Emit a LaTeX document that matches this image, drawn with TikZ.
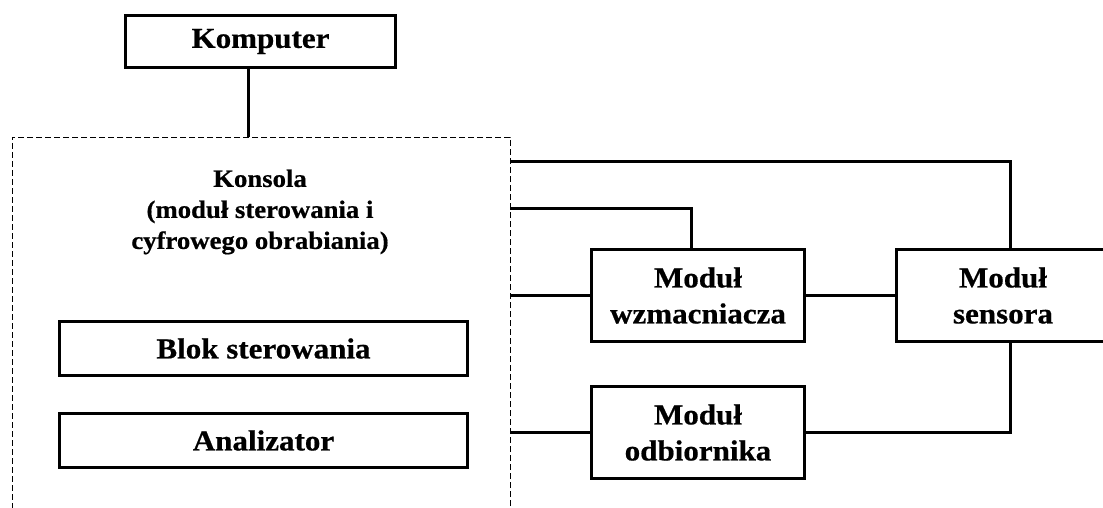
\documentclass[tikz,border=0pt]{standalone}
\usepackage{fontspec}
\setmainfont{Liberation Serif}[FakeStretch=1.07,FakeBold=0.6]
\begin{document}
\begin{tikzpicture}[x=1pt,y=-1pt,
  box/.style={draw, line width=3pt, rectangle, inner sep=0pt, outer sep=0pt,
    align=center, font=\bfseries\fontsize{29}{36}\selectfont},
  group/.style={draw, dashed, dash pattern=on 6pt off 3pt, line width=0.9pt,
    rectangle, inner sep=0pt, outer sep=0pt},
  wire/.style={line width=3pt}]
  \clip (0,0) rectangle (1103,508);
  \fill[white] (0,0) rectangle (1103,508);

  % computer and console
  \node[box, line width=3.5pt, minimum width=270pt, minimum height=52pt] (komp) at (260.5,41.5) {Komputer};
  \node[group, minimum width=498pt, minimum height=393pt] (konsola) at (261,333.5) {};
  \node[align=center, font=\bfseries\fontsize{25}{31}\selectfont] (konsolatxt) at (260,212)
    {Konsola\\ (moduł sterowania i\\ cyfrowego obrabiania)};
  \node[box, minimum width=408pt, minimum height=54pt] (blok) at (263.5,348.5) {Blok sterowania};
  \node[box, minimum width=408pt, minimum height=54pt] (anal) at (263.5,440.5) {Analizator};

  % external modules
  \node[box, minimum width=213pt, minimum height=92pt] (wzm) at (698,295.5) {Moduł\\ wzmacniacza};
  \node[box, minimum width=213pt, minimum height=92pt] (odb) at (698,432.5) {Moduł\\ odbiornika};
  \node[box, minimum width=213pt, minimum height=92pt] (sens) at (1003,295.5) {Moduł\\ sensora};

  % connections
  \draw[wire] ([xshift=-12.5pt]komp.south) -- ([xshift=-12.5pt]komp.south |- konsola.north);
  \draw[wire] (konsola.east |- 0,162) -| ([xshift=7pt]sens.north);
  \draw[wire] (konsola.east |- 0,208) -| ([xshift=-7pt]wzm.north);
  \draw[wire] (konsola.east |- wzm.west) -- (wzm.west);
  \draw[wire] (wzm.east) -- (sens.west);
  \draw[wire] (konsola.east |- odb.west) -- (odb.west);
  \draw[wire] (odb.east) -| ([xshift=7pt]sens.south);
\end{tikzpicture}
\end{document}
